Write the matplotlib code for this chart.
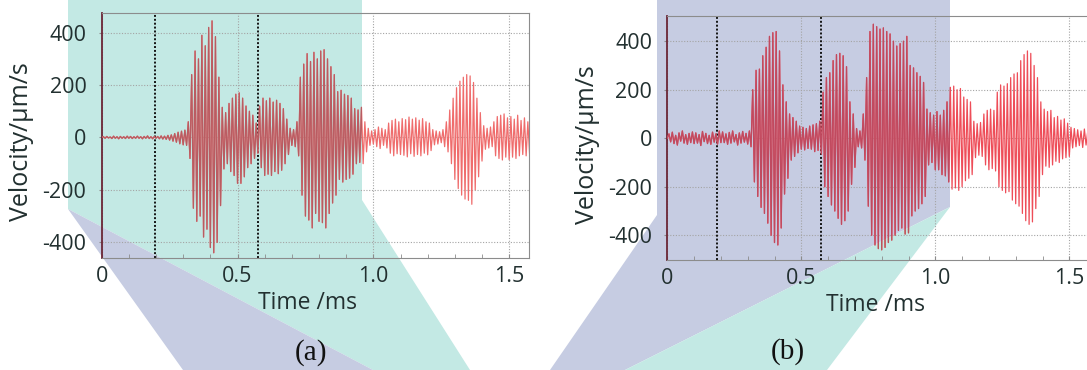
import numpy as np
import matplotlib
matplotlib.use("Agg")
import matplotlib.pyplot as plt
from matplotlib.patches import Polygon

#------------------------------------------------------------------
# Values: velocity extremes (um/s) of every
# oscillation cycle, one peak then one trough, cycles 0.0125 ms apart
step = 0.00625  # ms between a peak and the following trough

a_peaks = [3, 4, 2, 5, 3, 4, 3, 5,
           4, 3, 5, 3, 4, 6, 3, 4,
           4, 6, 5, 8, 10, 15, 20, 24,
           28, 60, 240, 330, 300, 390, 350, 420,
           445, 385, 230, 115, 95, 130, 150, 165,
           170, 150, 120, 100, 85, 55, 120, 150,
           140, 150, 135, 142, 130, 110, 70, 35,
           30, 60, 230, 280, 320, 290, 325, 300,
           330, 335, 300, 270, 240, 175, 180, 165,
           160, 150, 110, 105, 115, 60, 35, 25,
           30, 40, 35, 30, 55, 65, 70, 60,
           72, 68, 78, 70, 75, 66, 72, 60,
           55, 30, 25, 22, 30, 60, 105, 150,
           190, 215, 230, 240, 235, 210, 150, 95,
           45, 35, 40, 60, 80, 85, 90, 75,
           80, 70, 85, 65, 75, 60]
a_troughs = [-3, -2, -4, -3, -5, -3, -4, -3,
             -4, -3, -3, -5, -3, -4, -5, -3,
             -5, -6, -7, -10, -14, -18, -24, -28,
             -30, -80, -270, -320, -300, -380, -350, -420,
             -440, -400, -260, -120, -100, -130, -145, -175,
             -175, -150, -115, -100, -80, -60, -115, -145,
             -140, -145, -130, -138, -125, -100, -65, -30,
             -35, -70, -220, -300, -315, -345, -290, -320,
             -325, -345, -290, -250, -220, -160, -170, -160,
             -155, -140, -100, -95, -100, -55, -30, -25,
             -35, -42, -30, -40, -60, -70, -62, -65,
             -68, -74, -62, -72, -65, -70, -60, -66,
             -50, -28, -25, -20, -35, -55, -100, -160,
             -195, -220, -235, -240, -255, -200, -150, -90,
             -45, -40, -35, -70, -80, -86, -75, -85,
             -75, -80, -70, -65, -70, -60]

b_peaks = [18, 25, 12, 22, 30, 15, 20, 26,
           22, 15, 28, 20, 12, 25, 18, 30,
           26, 18, 24, 30, 15, 22, 28, 20,
           30, 200, 280, 285, 340, 375, 420, 435,
           440, 360, 220, 150, 100, 85, 70, 50,
           45, 40, 50, 55, 60, 70, 190, 250,
           270, 320, 345, 350, 340, 295, 150, 100,
           40, 30, 100, 250, 440, 470, 460, 450,
           455, 440, 430, 400, 380, 390, 400, 420,
           300, 290, 270, 255, 230, 120, 105, 95,
           110, 95, 115, 150, 210, 215, 200, 205,
           170, 160, 150, 70, 60, 65, 100, 115,
           120, 115, 190, 220, 215, 225, 250, 265,
           270, 320, 345, 360, 350, 300, 250, 150,
           120, 110, 115, 85, 90, 75, 80, 62,
           45, 40, 35, 30, 38, 28, 32, 25]
b_troughs = [-15, -22, -28, -12, -20, -25, -18, -22,
             -20, -30, -14, -22, -25, -16, -24, -18,
             -18, -25, -20, -15, -28, -20, -16, -24,
             -35, -180, -240, -285, -310, -350, -400, -430,
             -440, -370, -230, -165, -90, -75, -60, -45,
             -48, -42, -45, -55, -50, -65, -200, -240,
             -275, -300, -330, -355, -340, -300, -190, -120,
             -35, -40, -90, -280, -400, -440, -455, -460,
             -450, -430, -420, -400, -380, -370, -395, -390,
             -320, -300, -290, -270, -240, -110, -100, -130,
             -130, -150, -155, -180, -210, -205, -215, -200,
             -175, -165, -150, -80, -70, -75, -110, -130,
             -125, -135, -200, -215, -225, -220, -255, -270,
             -280, -310, -340, -355, -345, -290, -240, -150,
             -115, -120, -110, -95, -100, -85, -80, -75,
             -40, -35, -30, -38, -28, -32, -25, -30]

a_windows = [0.195, 0.577]   # dotted window lines, ms
b_windows = [0.187, 0.572]

x_ticks = [0, 0.5, 1.0, 1.5]
x_ticklabels = ["0", "0.5", "1.0", "1.5"]
y_ticks = [-400, -200, 0, 200, 400]
y_ticklabels = ["-400", "-200", "0", "200", "400"]

#------------------------------------------------------------------
plt.rcParams["font.family"] = ["Open Sans", "DejaVu Sans"]
plt.rcParams["axes.unicode_minus"] = False
TXT = "#223030"
TEAL = "#c3e9e4"
LAV = "#c6cce2"
W, H = 1087, 370

fig = plt.figure(figsize=(W / 100, H / 100), dpi=100)


def px(pts):
    # image pixel corners -> figure fraction
    return [(x / W, 1 - y / H) for x, y in pts]


def shape(pts, color, add=True):
    p = Polygon(px(pts), closed=True, transform=fig.transFigure,
                facecolor=color, edgecolor="none", zorder=-5)
    if add:
        fig.add_artist(p)
    return p


def trace(peaks, troughs):
    v = [0.0]
    for p, n in zip(peaks, troughs):
        v += [p, n]
    return np.arange(len(v)) * step, np.array(v)


def setup(ax, xmax, ylim, windows):
    ax.set_facecolor("none")
    ax.set_xlim(0, xmax)
    ax.set_ylim(*ylim)
    ax.set_xticks(x_ticks)
    ax.set_xticklabels(x_ticklabels)
    ax.set_xticks(np.arange(0.1, xmax, 0.1), minor=True)
    ax.set_yticks(y_ticks)
    ax.set_yticklabels(y_ticklabels)
    ax.set_axisbelow(True)
    ax.grid(True, which="major", color="#a4a4a4", ls=(0, (1, 1.5)), lw=0.8)
    for s in ("top", "right", "bottom"):
        ax.spines[s].set_color("#8c8c8c")
    ax.spines["left"].set_color("#6b2636")
    ax.spines["left"].set_linewidth(1.3)
    ax.tick_params(axis="x", which="both", direction="in", length=3,
                   color="#8c8c8c", labelsize=15.5, labelcolor=TXT, pad=5.5)
    ax.tick_params(axis="y", direction="out", length=2, color="#8c8c8c",
                   labelsize=15.5, labelcolor=TXT, pad=9)
    for w in windows:
        ax.axvline(w, color="#141414", ls=(0, (1, 1)), lw=1.4, zorder=2)


#------------------------------------------------------------------
# Overlay shapes sitting behind the plots
teal_a = [(68, 0), (362, 0), (362, 200), (470, 370), (373, 370), (68, 209)]
lav_a = [(68, 209), (373, 370), (183, 370)]
lav_b = [(657, 0), (950, 0), (950, 207), (625, 370), (550, 370), (657, 215)]
teal_b = [(950, 207), (827, 370), (625, 370)]
shape(teal_a, TEAL)
shape(lav_a, LAV)
shape(lav_b, LAV)
shape(teal_b, TEAL)

# Panel (a)
ax1 = fig.add_axes([101.7 / W, 1 - 258 / H, 427.3 / W, 244.7 / H])
setup(ax1, 1.573, (-460, 474), a_windows)
t, v = trace(a_peaks, a_troughs)
ax1.plot(t, v, color="#ef6c6c", lw=0.9, zorder=3)
ln, = ax1.plot(t, v, color="#b95c62", lw=0.9, zorder=4)
ln.set_clip_path(shape(teal_a, TEAL, add=False))

# Panel (b)
ax2 = fig.add_axes([667.3 / W, 1 - 260 / H, 428.8 / W, 244 / H])
setup(ax2, 1.6, (-502, 504), b_windows)
t, v = trace(b_peaks, b_troughs)
ax2.plot(t, v, color="#ee4d58", lw=0.9, zorder=3)
ln, = ax2.plot(t, v, color="#bf4a60", lw=0.9, zorder=4)
ln.set_clip_path(shape(lav_b, LAV, add=False))
ln, = ax2.plot(t, v, color="#b8565a", lw=0.9, zorder=4)
ln.set_clip_path(shape(teal_b, TEAL, add=False))

# Axis titles and panel letters
fig.text(22 / W, 1 - 142 / H, "Velocity/μm/s", rotation=90, ha="center",
         va="center", fontsize=18, color=TXT)
fig.text(588 / W, 1 - 145 / H, "Velocity/μm/s", rotation=90, ha="center",
         va="center", fontsize=18, color=TXT)
fig.text(307 / W, 1 - 303 / H, "Time /ms", ha="center", va="center",
         fontsize=16.5, color=TXT)
fig.text(876 / W, 1 - 305 / H, "Time /ms", ha="center", va="center",
         fontsize=16.5, color=TXT)
fig.text(311.5 / W, 1 - 352.5 / H, "(a)", ha="center", va="center",
         fontsize=21, family="Liberation Serif", color="#111111")
fig.text(788 / W, 1 - 352 / H, "(b)", ha="center", va="center",
         fontsize=21, family="Liberation Serif", color="#111111")

fig.savefig("out.png", dpi=100)
